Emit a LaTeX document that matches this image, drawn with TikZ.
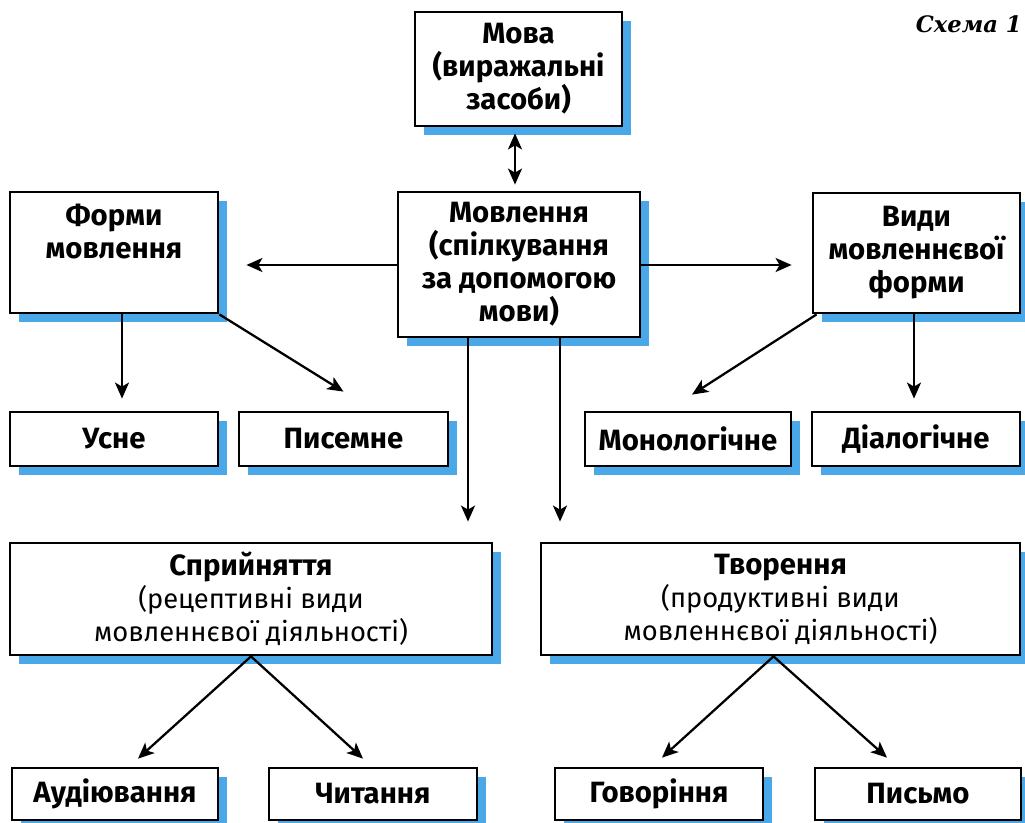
\documentclass[tikz,border=0pt]{standalone}
\usepackage{fontspec}
\setmainfont{Fira Sans}
\newfontfamily\schfont{DejaVu Serif}
\usetikzlibrary{arrows.meta,shadows,calc}
\definecolor{shblue}{RGB}{75,168,232}
\newcommand{\regtext}[1]{{\mdseries\fontsize{20.5}{25}\selectfont #1}}
\begin{document}
\begin{tikzpicture}[x=0.75pt,y=-0.75pt,
  bx/.style={draw=black, line width=2.1pt, fill=white,
    general shadow={fill=shblue, shadow xshift=6.75pt, shadow yshift=-6.75pt},
    align=center, font=\bfseries\fontsize{22}{24.75}\selectfont, inner sep=0pt},
  sz/.style 2 args={minimum width=#1*0.75pt, minimum height=#2*0.75pt},
  tip/.style={Stealth[length=12pt,width=10.5pt,inset=3pt]},
  ar/.style={line width=1.7pt, -{Stealth[length=12pt,width=10.5pt,inset=3pt]}},
  dar/.style={line width=1.7pt, {Stealth[length=12pt,width=10.5pt,inset=3pt]}-{Stealth[length=12pt,width=10.5pt,inset=3pt]}}
]
\useasboundingbox (0,0) rectangle (1025,823);
\clip (0,0) rectangle (1025,823);
\fill[white] (0,0) rectangle (1025,823);

% title
\node[anchor=east, font=\schfont\bfseries\itshape\fontsize{17}{20}\selectfont, inner sep=0pt] (schema) at (1022,24) {Схема 1};

% boxes
\node[bx, sz={207}{114}] (mova) at (518.5,69) {Мова\\(виражальні\\засоби)};
\node[bx, sz={242}{145}] (movl) at (519,264.5) {Мовлення\\(спілкування\\за допомогою\\мови)};
\node[bx, sz={208}{121}] (form) at (114,252.5) {Форми\\мовлення\\\strut};
\node[bx, sz={207}{120}] (vydy) at (916.5,253) {Види\\мовленнєвої\\форми};

\node[bx, sz={208}{54}] (usne) at (114,439) {Усне};
\node[bx, sz={209}{54}] (pys) at (343.5,439) {Писемне};
\node[bx, sz={206}{54}] (mono) at (688,439) {Монологічне};
\node[bx, sz={208}{54}] (dial) at (916,439) {Діалогічне};

\node[bx, sz={482}{112}] (spr) at (251,599) {Сприйняття\\\regtext{(рецептивні види}\\\regtext{мовленнєвої діяльності)}};
\node[bx, sz={479}{112}] (tvor) at (780.5,599) {Творення\\\regtext{(продуктивні види}\\\regtext{мовленнєвої діяльності)}};

\node[bx, sz={206}{52}] (aud) at (115,794) {Аудіювання};
\node[bx, sz={208}{52}] (chyt) at (373,794) {Читання};
\node[bx, sz={208}{52}] (hov) at (659,794) {Говоріння};
\node[bx, sz={206}{52}] (pysmo) at (918,794) {Письмо};

% connectors
\draw[dar] ($(mova.south)+(-3.5,6)$) -- ($(movl.north)+(-4,-6)$);
\draw[ar] (movl.west |- 0,265) -- ($(form.east |- 0,265)+(27,0)$);
\draw[ar] (movl.east |- 0,265) -- ($(vydy.west |- 0,265)+(-20,0)$);
\draw[ar] (movl.south -| 468,0) -- ($(spr.north -| 468,0)+(0,-20)$);
\draw[ar] (movl.south -| 560,0) -- ($(tvor.north -| 560,0)+(0,-20)$);

\draw[ar] (form.south -| 122,0) -- ($(usne.north -| 122,0)+(0,-12)$);
\draw[ar] (form.south east) -- ($(pys.north)+(0,-19)$);
\draw[ar] ($(vydy.south west)+(5,0)$) -- ($(mono.north)+(4,-16)$);
\draw[ar] (vydy.south -| 914,0) -- ($(dial.north -| 914,0)+(0,-12)$);

\draw[ar] (spr.south) -- ($(aud.north)+(23,-8)$);
\draw[ar] (spr.south) -- ($(chyt.north)+(-10,-8)$);
\draw[ar] ($(tvor.south)+(-7,0)$) -- ($(hov.north)+(3,-9)$);
\draw[ar] ($(tvor.south)+(-7,0)$) -- ($(pysmo.north)+(-31,-9)$);
\end{tikzpicture}
\end{document}
